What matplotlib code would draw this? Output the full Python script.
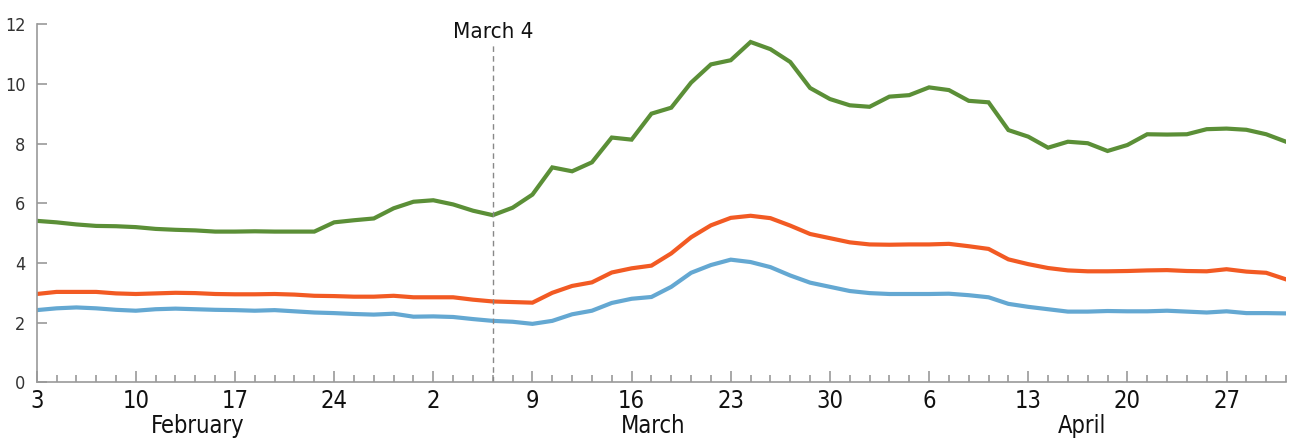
import numpy as np
import matplotlib.pyplot as plt
from matplotlib.ticker import MultipleLocator

plt.rcParams['font.family'] = ['DejaVu Sans']
plt.rcParams['font.stretch'] = 'condensed'

# one value per weekday, Feb 3 to Apr 30 (index 0..63)
green = [5.41, 5.36, 5.29, 5.24, 5.23, 5.20, 5.14, 5.11, 5.09, 5.05,
         5.05, 5.06, 5.05, 5.05, 5.05, 5.36, 5.43, 5.49, 5.83, 6.05,
         6.10, 5.96, 5.75, 5.60, 5.85, 6.29, 7.20, 7.07, 7.37, 8.20,
         8.13, 9.00, 9.20, 10.04, 10.65, 10.79, 11.40, 11.16, 10.73, 9.86,
         9.49, 9.28, 9.23, 9.57, 9.62, 9.88, 9.79, 9.43, 9.38, 8.45,
         8.23, 7.86, 8.06, 8.01, 7.75, 7.95, 8.31, 8.30, 8.31, 8.48,
         8.50, 8.46, 8.31, 8.06]
orange = [2.96, 3.03, 3.03, 3.03, 2.98, 2.96, 2.98, 3.00, 2.99, 2.96,
          2.95, 2.95, 2.96, 2.94, 2.90, 2.89, 2.87, 2.87, 2.90, 2.85,
          2.85, 2.85, 2.77, 2.71, 2.69, 2.67, 3.00, 3.23, 3.35, 3.68,
          3.82, 3.91, 4.32, 4.86, 5.26, 5.51, 5.58, 5.50, 5.25, 4.97,
          4.83, 4.69, 4.62, 4.61, 4.62, 4.62, 4.64, 4.56, 4.47, 4.12,
          3.96, 3.83, 3.75, 3.72, 3.72, 3.73, 3.75, 3.76, 3.73, 3.72,
          3.79, 3.71, 3.67, 3.45]
blue = [2.42, 2.48, 2.51, 2.48, 2.43, 2.40, 2.45, 2.47, 2.45, 2.43,
        2.42, 2.40, 2.42, 2.38, 2.34, 2.32, 2.29, 2.27, 2.30, 2.20,
        2.21, 2.19, 2.12, 2.06, 2.03, 1.96, 2.06, 2.28, 2.40, 2.66,
        2.80, 2.86, 3.20, 3.67, 3.93, 4.11, 4.03, 3.86, 3.58, 3.34,
        3.20, 3.06, 2.99, 2.96, 2.96, 2.96, 2.97, 2.92, 2.85, 2.63,
        2.53, 2.45, 2.37, 2.37, 2.39, 2.38, 2.38, 2.40, 2.37, 2.34,
        2.38, 2.32, 2.32, 2.31]

week_labels = ['3', '10', '17', '24', '2', '9', '16', '23', '30', '6', '13', '20', '27']
months = ['February', 'March', 'April']
month_pos = [8.1, 31.1, 52.7]
marker_idx = 23
marker_label = 'March 4'

x = np.arange(len(green))

fig = plt.figure(figsize=(12.96, 4.38), dpi=100)
ax = fig.add_axes([0.0283, 0.127, 0.9640, 0.818])

ax.plot(x, green, color='#5b8f37', lw=3, solid_joinstyle='miter')
ax.plot(x, orange, color='#f25a23', lw=3, solid_joinstyle='miter')
ax.plot(x, blue, color='#64a8d2', lw=3, solid_joinstyle='miter')

# dashed marker line
ax.axvline(marker_idx, ymin=0, ymax=11.3 / 12, color='#888888', lw=1, ls=(0, (4, 3)))
ax.text(marker_idx, 11.4, marker_label, ha='center', va='bottom', fontsize=16, color='#111111')

ax.set_xlim(0, len(green) - 1)
ax.set_ylim(0, 12)
ax.set_xticks(np.arange(0, len(green), 5))
ax.set_xticklabels(week_labels)
ax.xaxis.set_minor_locator(MultipleLocator(1))
ax.yaxis.set_major_locator(MultipleLocator(2))

for s in ['top', 'right']:
    ax.spines[s].set_visible(False)
for s in ['left', 'bottom']:
    ax.spines[s].set_color('#999999')
    ax.spines[s].set_linewidth(1.2)

ax.tick_params(axis='x', which='major', direction='in', length=8, width=1.2,
               color='#999999', labelsize=17, pad=5, labelcolor='#111111')
ax.tick_params(axis='x', which='minor', direction='in', length=5, width=1.2, color='#999999')
ax.tick_params(axis='y', which='major', direction='in', length=7, width=1.2,
               color='#999999', labelsize=13, pad=8, labelcolor='#333333')

for m, p in zip(months, month_pos):
    ax.text(p, -1.45, m, ha='center', va='center', fontsize=17, color='#111111')

fig.savefig('out.png', dpi=100)
